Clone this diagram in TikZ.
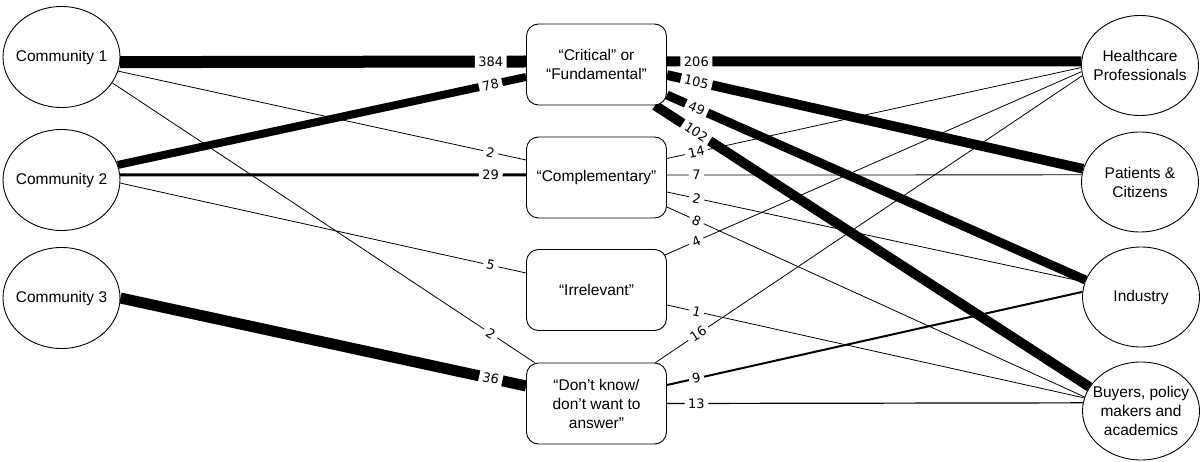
\documentclass[tikz,border=0pt]{standalone}
\usepackage{fontspec}
\setmainfont{Liberation Sans}
\newfontfamily\numfont{DejaVu Sans}
\usetikzlibrary{shapes.geometric,backgrounds}

\tikzset{
  group/.style={ellipse, draw, line width=0.9pt, fill=white,
    minimum width=117pt, minimum height=101pt, inner sep=0pt},
  grouptext/.style={font=\fontsize{15.5}{19}\selectfont, align=center, text=black},
  answer/.style={draw, line width=0.9pt, rounded corners=12pt, fill=white,
    minimum width=140pt, minimum height=81pt, align=center,
    font=\fontsize{15.5}{19}\selectfont},
  count/.style={fill=white, sloped, font=\numfont\fontsize{13}{13}\selectfont,
    inner xsep=3.5pt, inner ysep=1.5pt},
  inl/.style={count, pos=0.913},
  outl/.style={count, pos=0.071},
  wt/.style={line width=#1pt},
  thinedge/.style={line width=0.8pt},
}

\begin{document}
\begin{tikzpicture}[x=1pt, y=-1pt]
\useasboundingbox (0,0) rectangle (1200,462);

% respondent communities
\node[group, label={[grouptext]center:Community 1}] (c1) at (61.5,57) {};
\node[group, label={[grouptext]center:Community 2}] (c2) at (61.5,180) {};
\node[group, label={[grouptext]center:Community 3}] (c3) at (61.5,298) {};

% answers
\node[answer] (crit) at (596.5,64.5)  {“Critical” or\\“Fundamental”};
\node[answer] (comp) at (596.5,177.5) {“Complementary”};
\node[answer] (irr)  at (596.5,290)   {“Irrelevant”};
\node[answer] (dk)   at (596.5,403.5) {“Don’t know/\\don’t want to\\answer”};

% stakeholder groups
\node[group, minimum height=100pt, label={[grouptext]center:{Healthcare\\Professionals}}] (hc) at (1140,65.5) {};
\node[group, minimum height=100pt, label={[grouptext]center:{Patients \&\\Citizens}}] (pc) at (1140,182) {};
\node[group, minimum height=100pt, label={[grouptext]center:Industry}] (ind) at (1141,297) {};
\node[group, minimum height=98pt, label={[grouptext]center:{Buyers, policy\\makers and\\academics}}] (buy) at (1141,411) {};

\begin{pgfonlayer}{background}
% communities to answers
\draw[wt=12] (c1.-5) -- node[inl]{384} ([yshift=3pt]crit.west);
\draw[wt=8] (c2.15) -- node[inl]{78} ([yshift=-12.5pt]crit.west);
\draw[thinedge] (c1.-14) -- node[inl]{2} ([yshift=17.5pt]comp.west);
\draw[thinedge] (c1.-27) -- node[count, pos=0.896]{2} ([xshift=8.5pt]dk.north west);
\draw[wt=3] (c2.5) -- node[inl]{29} ([yshift=2.5pt]comp.west);
\draw[thinedge] (c2.-3) -- node[inl]{5} ([yshift=17pt]irr.west);
\draw[wt=11] (c3.east) -- node[inl]{36} ([yshift=17.5pt]dk.west);

% answers to stakeholder groups
\draw[wt=10] ([yshift=3pt]crit.east) -- node[outl]{206} (hc.176);
\draw[wt=9.7] ([yshift=-10.5pt]crit.east) -- node[outl]{105} (pc.167);
\draw[wt=9] ([yshift=-30.5pt]crit.east) -- node[outl]{49} (ind.163);
\draw[wt=9.8] ([xshift=-12pt]crit.south east) -- node[count, pos=0.095]{102} (buy.155);
\draw[thinedge] ([yshift=19pt]comp.east) -- node[outl]{14} (hc.182);
\draw[thinedge] ([yshift=2.5pt]comp.east) -- node[outl]{7} (pc.173);
\draw[thinedge] ([yshift=-14.5pt]comp.east) -- node[outl]{2} (ind.165);
\draw[thinedge] ([yshift=-29.5pt]comp.east) -- node[outl]{8} (buy.166);
\draw[thinedge] ([xshift=-2pt, yshift=35pt]irr.east) -- node[count, pos=0.075]{4} (hc.186);
\draw[thinedge] ([yshift=-15pt]irr.east) -- node[outl]{1} (buy.167);
\draw[thinedge] ([xshift=-11.5pt]dk.north east) -- node[count, pos=0.1]{16} (hc.190);
\draw[wt=2] ([yshift=18.5pt]dk.east) -- node[outl]{9} (ind.175);
\draw[wt=1.2] (dk.east) -- node[outl]{13} (buy.172);
\end{pgfonlayer}
\end{tikzpicture}
\end{document}
